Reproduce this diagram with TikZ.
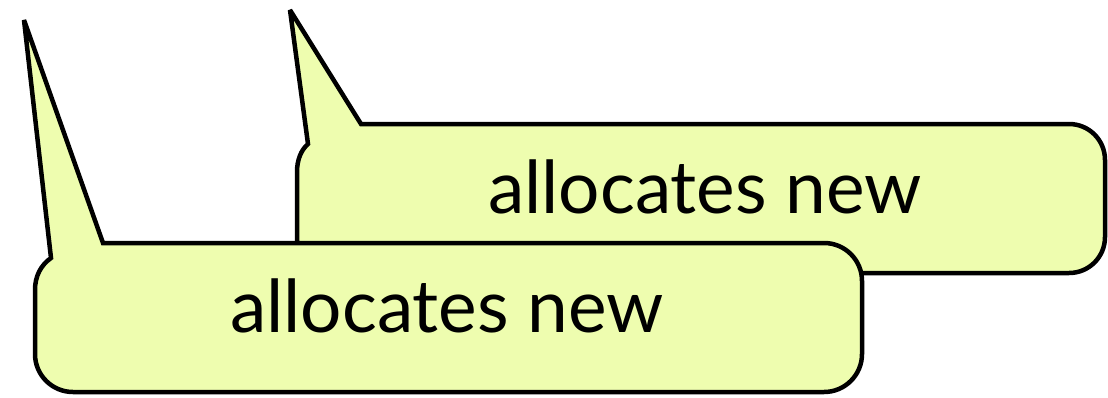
\documentclass[tikz,border=0pt]{standalone}
\usepackage{fontspec}
\setmainfont{Lato}
\definecolor{calloutfill}{RGB}{238,253,175}
\begin{document}
\begin{tikzpicture}[x=1pt,y=-1pt,
  callout/.style={draw=black,fill=calloutfill,line width=4.5pt,miter limit=3},
  callouttext/.style={anchor=base,inner sep=0pt,font=\fontsize{73}{88}\selectfont}]
\useasboundingbox (0,0) rectangle (1108,397);
% rear callout
\path[callout] (290,10) -- (361,124) -- (1069,124)
  .. controls (1089,124) and (1105,140) .. (1105,160) -- (1105,237)
  .. controls (1105,257) and (1089,273) .. (1069,273) -- (333,273)
  .. controls (313,273) and (297,257) .. (297,237) -- (297,172)
  .. controls (297,160) and (301,150) .. (308,144) -- cycle;
\node[callouttext] (reartext) at (705,213) {allocates new};
% front callout
\path[callout] (24,20) -- (103,243) -- (824,243)
  .. controls (845,243) and (862,260) .. (862,281) -- (862,354)
  .. controls (862,375) and (845,392) .. (824,392) -- (73,392)
  .. controls (52,392) and (35,375) .. (35,354) -- (35,290)
  .. controls (35,276) and (41,265) .. (51,258) -- cycle;
\node[callouttext] (fronttext) at (447,332) {allocates new};
\end{tikzpicture}
\end{document}
